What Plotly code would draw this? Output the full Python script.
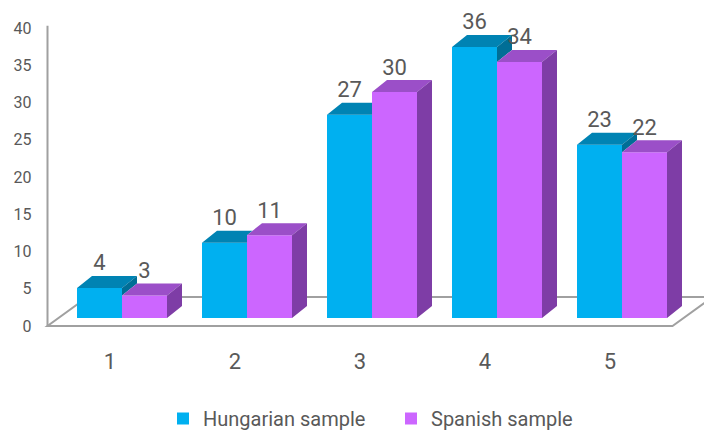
import plotly.graph_objects as go

# ---------------- data ----------------
categories = [1, 2, 3, 4, 5]
x_tick_labels = ["1", "2", "3", "4", "5"]
hungarian = [4, 10, 27, 36, 23]
spanish = [3, 11, 30, 34, 22]
series_names = ["Hungarian sample", "Spanish sample"]
y_ticks = [0, 5, 10, 15, 20, 25, 30, 35, 40]

# ---------------- styling / geometry ----------------
W, H = 704, 432
FONT = "Roboto"
TEXT = "#595959"
GRID = "#A0A0A0"
H_FRONT, H_TOP, H_SIDE = "#00B0F0", "#0083B3", "#006E96"
S_FRONT, S_TOP, S_SIDE = "#CC66FF", "#9B4FC8", "#7E3DA6"

CAT_PX = 125.0            # pixels per category
FRONT_HALF_PX = 47.5      # pixel x of category 0.5 on the front plane
FRONT_ZERO_PX = 326.0     # pixel y of value 0 on front plane
FRONT_UNIT_PX = 7.45      # pixels per value unit on front plane
BAR_CAT1_PX = 122.0       # pixel x of category 1 on the bar plane
BAR_ZERO_PX = 318.0       # pixel y of value 0 on bar plane
BAR_UNIT_PX = 7.53
BAR_W = 0.36              # bar width in category units
DEPTH_PX = (15.0, 12.0)   # bar depth offset (right, up)
FLOOR_DEPTH_PX = (40.0, 29.0)

x_front_r0 = 0.5 - FRONT_HALF_PX / CAT_PX
x_front_range = [x_front_r0, x_front_r0 + W / CAT_PX]
y_front_range = [-(H - FRONT_ZERO_PX) / FRONT_UNIT_PX, FRONT_ZERO_PX / FRONT_UNIT_PX]
x_bar_r0 = 1 - BAR_CAT1_PX / CAT_PX
x_bar_range = [x_bar_r0, x_bar_r0 + W / CAT_PX]
y_bar_range = [-(H - BAR_ZERO_PX) / BAR_UNIT_PX, BAR_ZERO_PX / BAR_UNIT_PX]

dx = DEPTH_PX[0] / CAT_PX
dy = DEPTH_PX[1] / BAR_UNIT_PX
fdx = FLOOR_DEPTH_PX[0] / CAT_PX
fdy = FLOOR_DEPTH_PX[1] / FRONT_UNIT_PX

fig = go.Figure()

# front faces (real bars)
fig.add_trace(go.Bar(x=categories, y=hungarian, name=series_names[0], width=BAR_W,
                     offset=-BAR_W, marker=dict(color=H_FRONT, line=dict(width=0)),
                     xaxis="x2", yaxis="y2", hoverinfo="x+y"))
fig.add_trace(go.Bar(x=categories, y=spanish, name=series_names[1], width=BAR_W,
                     offset=0, marker=dict(color=S_FRONT, line=dict(width=0)),
                     xaxis="x2", yaxis="y2", hoverinfo="x+y"))


def add_poly(xs, ys, pts):
    for px, py in pts:
        xs.append(px)
        ys.append(py)
    xs.append(pts[0][0]); ys.append(pts[0][1])
    xs.append(None); ys.append(None)


htx, hty, hsx, hsy, stx, sty, ssx, ssy = [], [], [], [], [], [], [], []
for c, vh, vs in zip(categories, hungarian, spanish):
    # Hungarian bar: [c-BAR_W, c]
    x0, x1 = c - BAR_W, c
    if vh >= vs:
        add_poly(htx, hty, [(x0, vh), (x1, vh), (x1 + dx, vh + dy), (x0 + dx, vh + dy)])
    else:
        k = (vs - vh) / dy
        if k < 1:
            add_poly(htx, hty, [(x0, vh), (x1, vh), (x1, vs),
                                (x1 + dx * (1 - k), vh + dy), (x0 + dx, vh + dy)])
        else:
            add_poly(htx, hty, [(x0, vh), (x1, vh), (x1, vh + dy), (x0 + dx, vh + dy)])
    if vh > vs:
        add_poly(hsx, hsy, [(x1, vs), (x1 + dx, vs + dy), (x1 + dx, vh + dy), (x1, vh)])
    # Spanish bar: [c, c+BAR_W]
    x0, x1 = c, c + BAR_W
    add_poly(stx, sty, [(x0, vs), (x1, vs), (x1 + dx, vs + dy), (x0 + dx, vs + dy)])
    add_poly(ssx, ssy, [(x1, 0), (x1 + dx, dy), (x1 + dx, vs + dy), (x1, vs)])

for xs, ys, col in [(htx, hty, H_TOP), (hsx, hsy, H_SIDE), (stx, sty, S_TOP), (ssx, ssy, S_SIDE)]:
    fig.add_trace(go.Scatter(x=xs, y=ys, mode="lines", fill="toself", fillcolor=col,
                             line=dict(width=0, color=col), showlegend=False,
                             hoverinfo="skip", xaxis="x2", yaxis="y2"))

# data labels
fig.add_trace(go.Scatter(x=[c - BAR_W / 2 for c in categories], y=[v + dy for v in hungarian],
                         mode="text", text=[str(v) for v in hungarian], textposition="top center",
                         textfont=dict(size=22, color=TEXT, family=FONT), showlegend=False,
                         hoverinfo="skip", cliponaxis=False, xaxis="x2", yaxis="y2"))
fig.add_trace(go.Scatter(x=[c + BAR_W / 2 for c in categories], y=[v + dy for v in spanish],
                         mode="text", text=[str(v) for v in spanish], textposition="top center",
                         textfont=dict(size=22, color=TEXT, family=FONT), showlegend=False,
                         hoverinfo="skip", cliponaxis=False, xaxis="x2", yaxis="y2"))

# invisible anchor trace for the front (tick) axes
fig.add_trace(go.Scatter(x=[categories[0]], y=[0], mode="markers", marker=dict(opacity=0),
                         showlegend=False, hoverinfo="skip"))

# floor and vertical axis line (front plane)
xa, xb = categories[0] - 0.5, categories[-1] + 0.5
fig.add_shape(type="path", xref="x", yref="y", layer="below",
              path=f"M {xa},0 L {xb},0 L {xb + fdx},{fdy} L {xa + fdx},{fdy} Z",
              fillcolor="white", line=dict(color=GRID, width=2))
fig.add_shape(type="line", xref="x", yref="y", layer="below",
              x0=xa, x1=xa, y0=0, y1=y_ticks[-1] + 0.3, line=dict(color=GRID, width=2))

fig.update_layout(
    template="none",
    width=W, height=H,
    margin=dict(l=0, r=0, t=0, b=0, autoexpand=False),
    paper_bgcolor="white", plot_bgcolor="white",
    barmode="overlay",
    font=dict(family=FONT, color=TEXT),
    showlegend=True,
    legend=dict(orientation="h", x=163 / W, xanchor="left", y=(H - 399) / H, yanchor="top",
                entrywidth=183, entrywidthmode="pixels",
                font=dict(size=20, color=TEXT, family=FONT), bgcolor="rgba(0,0,0,0)",
                itemclick=False, itemdoubleclick=False),
    xaxis=dict(domain=[0, 1], range=x_front_range, tickmode="array", tickvals=categories,
               ticktext=x_tick_labels, showgrid=False, zeroline=False, showline=False,
               ticks="", anchor="free", position=(H - 346) / H, automargin=False,
               tickfont=dict(size=22, color=TEXT, family=FONT), fixedrange=True),
    yaxis=dict(domain=[0, 1], range=y_front_range, tickmode="array", tickvals=y_ticks,
               showgrid=False, zeroline=False, showline=False, ticks="",
               anchor="free", position=FRONT_HALF_PX / W, ticklabelstandoff=16,
               automargin=False,
               tickfont=dict(size=16, color=TEXT, family=FONT), fixedrange=True),
    xaxis2=dict(domain=[0, 1], range=x_bar_range, overlaying="x", visible=False,
                automargin=False, fixedrange=True),
    yaxis2=dict(domain=[0, 1], range=y_bar_range, overlaying="y", visible=False,
                automargin=False, fixedrange=True),
)

fig.write_html("out.html", config={"displayModeBar": False},
               post_script="document.body.style.margin='0px';document.body.style.overflow='hidden';")
